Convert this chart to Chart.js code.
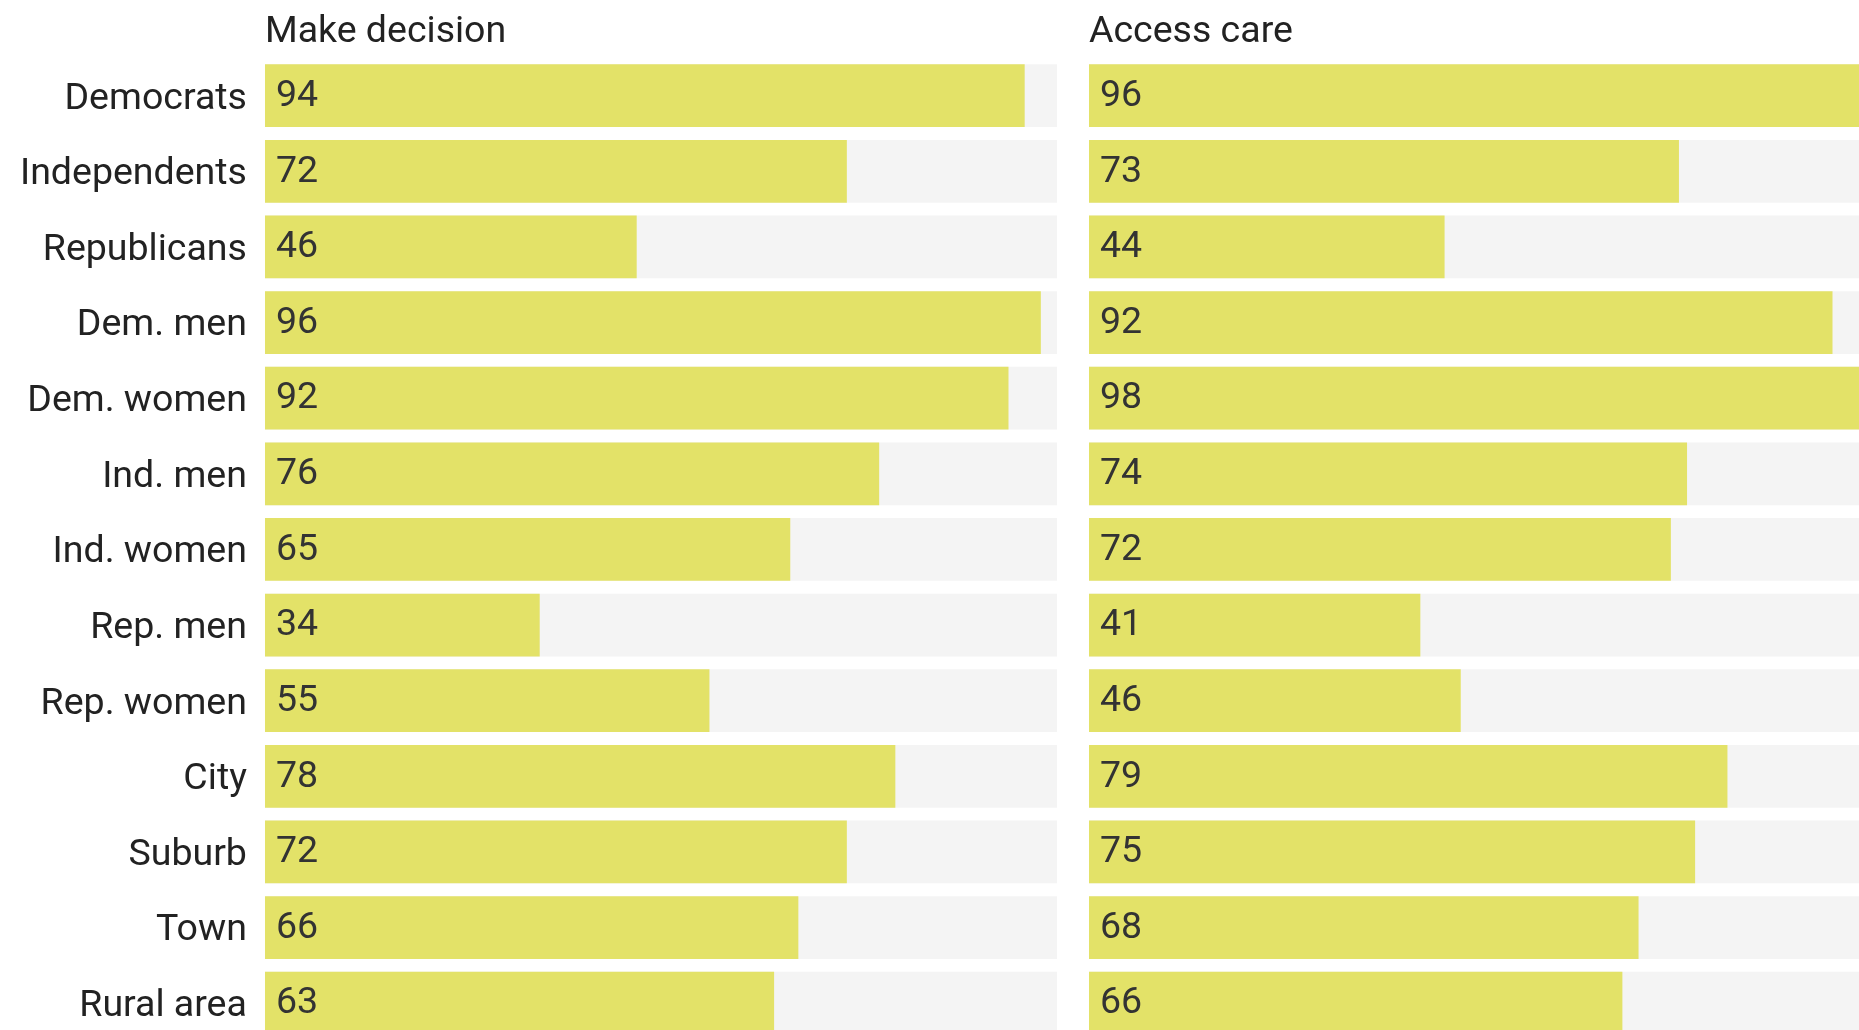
<!DOCTYPE html>
<html>
<head>
<meta charset="utf-8">
<script src="https://cdn.jsdelivr.net/npm/chart.js@4/dist/chart.umd.min.js"></script>
<style>
	html, body { margin: 0; padding: 0; background: #fff; overflow: hidden; width: 1859px; height: 1030px; }
	canvas { position: absolute; top: 0; }
	#leftChart { left: 0px; }
	#rightChart { left: 1089px; }
</style>
</head>
<body>
<canvas id="leftChart" width="1057" height="1041"></canvas>
<canvas id="rightChart" width="792" height="1041"></canvas>
<script>
let groups = ["Democrats", "Independents", "Republicans", "Dem. men", "Dem. women", "Ind. men", "Ind. women", "Rep. men", "Rep. women", "City", "Suburb", "Town", "Rural area"];
let makeDecision = [94, 72, 46, 96, 92, 76, 65, 34, 55, 78, 72, 66, 63];
let accessCare = [96, 73, 44, 92, 98, 74, 72, 41, 46, 79, 75, 68, 66];
let panelTitles = ["Make decision", "Access care"];

let barColor = "#e3e268";
let trackColor = "#f4f4f4";
let labelColor = "#222222";
let valueColor = "#333333";
let fontFamily = "Roboto, 'Noto Sans', sans-serif";
let fontSize = 37.5;

// the grey track runs to the largest value of both panels
let trackMax = Math.max(...makeDecision, ...accessCare);

let panelTitle = {
	id: "panelTitle",
	afterDraw(chart, args, opts) {
		let ctx = chart.ctx;
		ctx.save();
		ctx.font = fontSize + "px " + fontFamily;
		ctx.fillStyle = labelColor;
		ctx.textAlign = "left";
		ctx.textBaseline = "alphabetic";
		ctx.fillText(opts.text, chart.chartArea.left, 41.7);
		ctx.restore();
	}
};

let valueLabels = {
	id: "valueLabels",
	afterDatasetsDraw(chart) {
		let ctx = chart.ctx;
		let meta = chart.getDatasetMeta(0);
		let values = chart.data.datasets[0].data;
		ctx.save();
		ctx.font = fontSize + "px " + fontFamily;
		ctx.fillStyle = valueColor;
		ctx.textAlign = "left";
		ctx.textBaseline = "alphabetic";
		meta.data.forEach((bar, i) => {
			ctx.fillText(values[i], bar.base + 11, bar.y + 10.3);
		});
		ctx.restore();
	}
};

function buildChart(id, title, values, showLabels) {
	let tracks = groups.map(() => trackMax);
	return new Chart(document.getElementById(id), {
		type: "bar",
		data: {
			labels: groups,
			datasets: [
				{ data: values, backgroundColor: barColor, order: 1 },
				{ data: tracks, backgroundColor: trackColor, order: 2 }
			]
		},
		options: {
			indexAxis: "y",
			responsive: false,
			animation: false,
			devicePixelRatio: 1,
			layout: { padding: { top: 57.85, left: 0, right: 0, bottom: 0 } },
			datasets: { bar: { grouped: false, categoryPercentage: 1, barPercentage: 0.829, borderWidth: 0 } },
			scales: {
				x: { display: false, min: 0, max: trackMax },
				y: {
					display: showLabels,
					grid: { display: false, drawTicks: false },
					border: { display: false },
					ticks: {
						padding: 18,
						labelOffset: 3.5,
						color: labelColor,
						font: { family: fontFamily, size: fontSize }
					},
					afterFit(scale) {
						// fixed label column, and no extra room above/below the rows
						scale.width = showLabels ? 264.9 : 0;
						scale.paddingTop = 0;
						scale.paddingBottom = 0;
					}
				}
			},
			plugins: {
				legend: { display: false },
				tooltip: { enabled: false },
				panelTitle: { text: title }
			}
		},
		plugins: [panelTitle, valueLabels]
	});
}

document.fonts.load(fontSize + "px Roboto").then(() => {
	buildChart("leftChart", panelTitles[0], makeDecision, true);
	buildChart("rightChart", panelTitles[1], accessCare, false);
});
</script>
</body>
</html>
